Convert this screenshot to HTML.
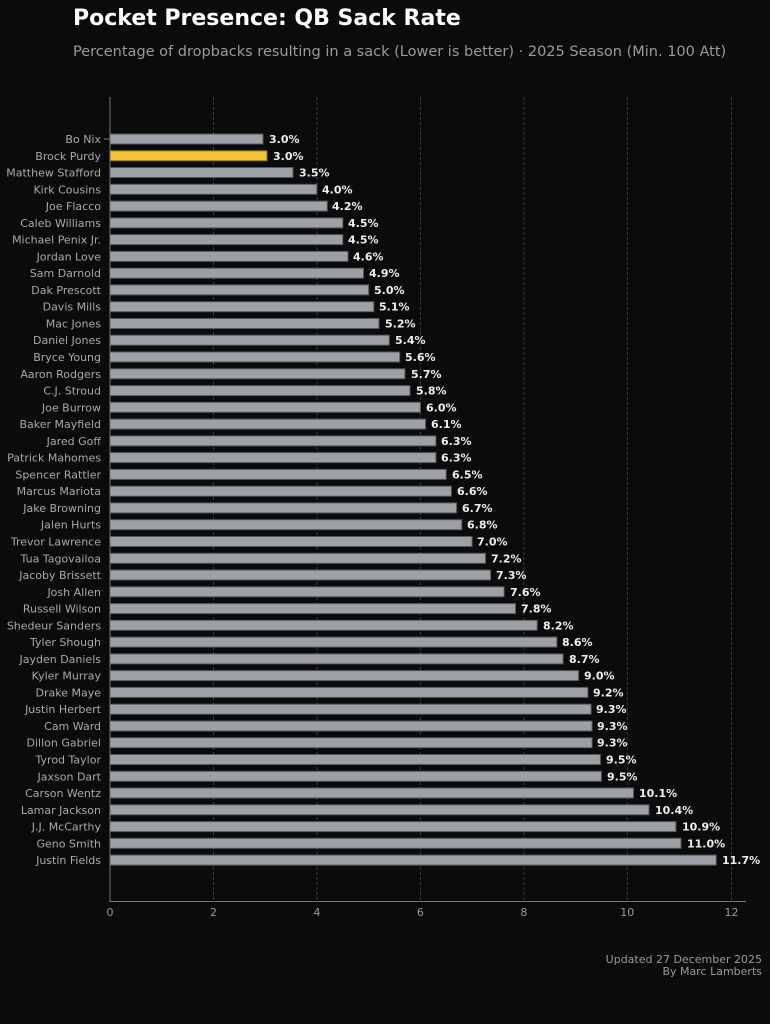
<!DOCTYPE html>
<html><head><meta charset="utf-8"><style>
html,body{margin:0;padding:0;background:#0b0b0b;}
svg{display:block;font-family:"DejaVu Sans","Liberation Sans",sans-serif;}
.n{fill:#a9a9a9;font-size:11px;text-anchor:end;}
.v{fill:#eeeeee;font-size:11px;font-weight:bold;}
.b{fill:#9da0a5;stroke:#55585c;stroke-width:1;}
</style></head><body>
<svg width="770" height="1024" viewBox="0 0 770 1024">
<rect width="770" height="1024" fill="#0b0b0b"/>
<text x="73" y="25" fill="#ffffff" font-size="22" font-weight="bold">Pocket Presence: QB Sack Rate</text>
<text x="73" y="56" fill="#9a9a9a" font-size="14.5">Percentage of dropbacks resulting in a sack (Lower is better) · 2025 Season (Min. 100 Att)</text>
<g stroke="#3d3d3d" stroke-dasharray="3,2" stroke-width="1">
<line x1="213.5" y1="97" x2="213.5" y2="901"/><line x1="317" y1="97" x2="317" y2="901"/><line x1="420.4" y1="97" x2="420.4" y2="901"/><line x1="523.9" y1="97" x2="523.9" y2="901"/><line x1="627.3" y1="97" x2="627.3" y2="901"/><line x1="731.5" y1="97" x2="731.5" y2="901"/>
</g>
<g stroke="#777" stroke-width="1">
<line x1="104" y1="139" x2="110" y2="139"/>
</g>
<g id="rows">
<g transform="translate(0,139)"><text class="n" x="101" y="4">Bo Nix</text><rect class="b" x="110" y="-5" width="153" height="10"/><text class="v" x="269" y="4">3.0%</text></g>
<g transform="translate(0,155.8)"><text class="n" x="101" y="4">Brock Purdy</text><rect x="110" y="-5" width="157" height="10" fill="#f4c430" stroke="#8a6d10"/><text class="v" x="273" y="4">3.0%</text></g>
<g transform="translate(0,172.5)"><text class="n" x="101" y="4">Matthew Stafford</text><rect class="b" x="110" y="-5" width="183" height="10"/><text class="v" x="299" y="4">3.5%</text></g>
<g transform="translate(0,189.3)"><text class="n" x="101" y="4">Kirk Cousins</text><rect class="b" x="110" y="-5" width="206.9" height="10"/><text class="v" x="322" y="4">4.0%</text></g>
<g transform="translate(0,206.1)"><text class="n" x="101" y="4">Joe Flacco</text><rect class="b" x="110" y="-5" width="217.3" height="10"/><text class="v" x="332" y="4">4.2%</text></g>
<g transform="translate(0,222.9)"><text class="n" x="101" y="4">Caleb Williams</text><rect class="b" x="110" y="-5" width="232.8" height="10"/><text class="v" x="348" y="4">4.5%</text></g>
<g transform="translate(0,239.6)"><text class="n" x="101" y="4">Michael Penix Jr.</text><rect class="b" x="110" y="-5" width="232.8" height="10"/><text class="v" x="348" y="4">4.5%</text></g>
<g transform="translate(0,256.4)"><text class="n" x="101" y="4">Jordan Love</text><rect class="b" x="110" y="-5" width="238" height="10"/><text class="v" x="353" y="4">4.6%</text></g>
<g transform="translate(0,273.2)"><text class="n" x="101" y="4">Sam Darnold</text><rect class="b" x="110" y="-5" width="253.5" height="10"/><text class="v" x="369" y="4">4.9%</text></g>
<g transform="translate(0,289.9)"><text class="n" x="101" y="4">Dak Prescott</text><rect class="b" x="110" y="-5" width="258.7" height="10"/><text class="v" x="374" y="4">5.0%</text></g>
<g transform="translate(0,306.7)"><text class="n" x="101" y="4">Davis Mills</text><rect class="b" x="110" y="-5" width="263.8" height="10"/><text class="v" x="379" y="4">5.1%</text></g>
<g transform="translate(0,323.5)"><text class="n" x="101" y="4">Mac Jones</text><rect class="b" x="110" y="-5" width="269" height="10"/><text class="v" x="385" y="4">5.2%</text></g>
<g transform="translate(0,340.2)"><text class="n" x="101" y="4">Daniel Jones</text><rect class="b" x="110" y="-5" width="279.3" height="10"/><text class="v" x="395" y="4">5.4%</text></g>
<g transform="translate(0,357)"><text class="n" x="101" y="4">Bryce Young</text><rect class="b" x="110" y="-5" width="289.7" height="10"/><text class="v" x="405" y="4">5.6%</text></g>
<g transform="translate(0,373.8)"><text class="n" x="101" y="4">Aaron Rodgers</text><rect class="b" x="110" y="-5" width="294.9" height="10"/><text class="v" x="411" y="4">5.7%</text></g>
<g transform="translate(0,390.6)"><text class="n" x="101" y="4">C.J. Stroud</text><rect class="b" x="110" y="-5" width="300" height="10"/><text class="v" x="416" y="4">5.8%</text></g>
<g transform="translate(0,407.3)"><text class="n" x="101" y="4">Joe Burrow</text><rect class="b" x="110" y="-5" width="310.4" height="10"/><text class="v" x="426" y="4">6.0%</text></g>
<g transform="translate(0,424.1)"><text class="n" x="101" y="4">Baker Mayfield</text><rect class="b" x="110" y="-5" width="315.6" height="10"/><text class="v" x="431" y="4">6.1%</text></g>
<g transform="translate(0,440.9)"><text class="n" x="101" y="4">Jared Goff</text><rect class="b" x="110" y="-5" width="325.9" height="10"/><text class="v" x="441" y="4">6.3%</text></g>
<g transform="translate(0,457.6)"><text class="n" x="101" y="4">Patrick Mahomes</text><rect class="b" x="110" y="-5" width="325.9" height="10"/><text class="v" x="441" y="4">6.3%</text></g>
<g transform="translate(0,474.4)"><text class="n" x="101" y="4">Spencer Rattler</text><rect class="b" x="110" y="-5" width="336.2" height="10"/><text class="v" x="452" y="4">6.5%</text></g>
<g transform="translate(0,491.2)"><text class="n" x="101" y="4">Marcus Mariota</text><rect class="b" x="110" y="-5" width="341.4" height="10"/><text class="v" x="457" y="4">6.6%</text></g>
<g transform="translate(0,507.9)"><text class="n" x="101" y="4">Jake Browning</text><rect class="b" x="110" y="-5" width="346.6" height="10"/><text class="v" x="462" y="4">6.7%</text></g>
<g transform="translate(0,524.7)"><text class="n" x="101" y="4">Jalen Hurts</text><rect class="b" x="110" y="-5" width="351.8" height="10"/><text class="v" x="467" y="4">6.8%</text></g>
<g transform="translate(0,541.5)"><text class="n" x="101" y="4">Trevor Lawrence</text><rect class="b" x="110" y="-5" width="362.1" height="10"/><text class="v" x="477" y="4">7.0%</text></g>
<g transform="translate(0,558.3)"><text class="n" x="101" y="4">Tua Tagovailoa</text><rect class="b" x="110" y="-5" width="375.5" height="10"/><text class="v" x="491" y="4">7.2%</text></g>
<g transform="translate(0,575)"><text class="n" x="101" y="4">Jacoby Brissett</text><rect class="b" x="110" y="-5" width="380.6" height="10"/><text class="v" x="496" y="4">7.3%</text></g>
<g transform="translate(0,591.8)"><text class="n" x="101" y="4">Josh Allen</text><rect class="b" x="110" y="-5" width="394.1" height="10"/><text class="v" x="510" y="4">7.6%</text></g>
<g transform="translate(0,608.6)"><text class="n" x="101" y="4">Russell Wilson</text><rect class="b" x="110" y="-5" width="405.5" height="10"/><text class="v" x="521" y="4">7.8%</text></g>
<g transform="translate(0,625.3)"><text class="n" x="101" y="4">Shedeur Sanders</text><rect class="b" x="110" y="-5" width="427.2" height="10"/><text class="v" x="543" y="4">8.2%</text></g>
<g transform="translate(0,642.1)"><text class="n" x="101" y="4">Tyler Shough</text><rect class="b" x="110" y="-5" width="446.9" height="10"/><text class="v" x="562" y="4">8.6%</text></g>
<g transform="translate(0,658.9)"><text class="n" x="101" y="4">Jayden Daniels</text><rect class="b" x="110" y="-5" width="453.1" height="10"/><text class="v" x="569" y="4">8.7%</text></g>
<g transform="translate(0,675.6)"><text class="n" x="101" y="4">Kyler Murray</text><rect class="b" x="110" y="-5" width="468.6" height="10"/><text class="v" x="584" y="4">9.0%</text></g>
<g transform="translate(0,692.4)"><text class="n" x="101" y="4">Drake Maye</text><rect class="b" x="110" y="-5" width="477.9" height="10"/><text class="v" x="593" y="4">9.2%</text></g>
<g transform="translate(0,709.2)"><text class="n" x="101" y="4">Justin Herbert</text><rect class="b" x="110" y="-5" width="481.1" height="10"/><text class="v" x="596" y="4">9.3%</text></g>
<g transform="translate(0,726)"><text class="n" x="101" y="4">Cam Ward</text><rect class="b" x="110" y="-5" width="482.1" height="10"/><text class="v" x="597" y="4">9.3%</text></g>
<g transform="translate(0,742.7)"><text class="n" x="101" y="4">Dillon Gabriel</text><rect class="b" x="110" y="-5" width="482.1" height="10"/><text class="v" x="597" y="4">9.3%</text></g>
<g transform="translate(0,759.5)"><text class="n" x="101" y="4">Tyrod Taylor</text><rect class="b" x="110" y="-5" width="490.4" height="10"/><text class="v" x="606" y="4">9.5%</text></g>
<g transform="translate(0,776.3)"><text class="n" x="101" y="4">Jaxson Dart</text><rect class="b" x="110" y="-5" width="491.4" height="10"/><text class="v" x="607" y="4">9.5%</text></g>
<g transform="translate(0,793)"><text class="n" x="101" y="4">Carson Wentz</text><rect class="b" x="110" y="-5" width="523.5" height="10"/><text class="v" x="639" y="4">10.1%</text></g>
<g transform="translate(0,809.8)"><text class="n" x="101" y="4">Lamar Jackson</text><rect class="b" x="110" y="-5" width="539" height="10"/><text class="v" x="655" y="4">10.4%</text></g>
<g transform="translate(0,826.6)"><text class="n" x="101" y="4">J.J. McCarthy</text><rect class="b" x="110" y="-5" width="565.9" height="10"/><text class="v" x="682" y="4">10.9%</text></g>
<g transform="translate(0,843.3)"><text class="n" x="101" y="4">Geno Smith</text><rect class="b" x="110" y="-5" width="571" height="10"/><text class="v" x="687" y="4">11.0%</text></g>
<g transform="translate(0,860.1)"><text class="n" x="101" y="4">Justin Fields</text><rect class="b" x="110" y="-5" width="606.2" height="10"/><text class="v" x="722" y="4">11.7%</text></g>
</g>
<g stroke="#777" stroke-width="1">
<line x1="110" y1="97" x2="110" y2="902"/>
<line x1="109.5" y1="901.5" x2="746" y2="901.5"/>
</g>
<g fill="#999" font-size="11" text-anchor="middle">
<text x="110" y="916">0</text><text x="213.5" y="916">2</text><text x="317" y="916">4</text><text x="420.4" y="916">6</text><text x="523.9" y="916">8</text><text x="627.3" y="916">10</text><text x="731.5" y="916">12</text>
</g>
<g fill="#999" font-size="11" text-anchor="end">
<text x="762" y="963">Updated 27 December 2025</text>
<text x="762" y="975">By Marc Lamberts</text>
</g>
</svg>
</body></html>
